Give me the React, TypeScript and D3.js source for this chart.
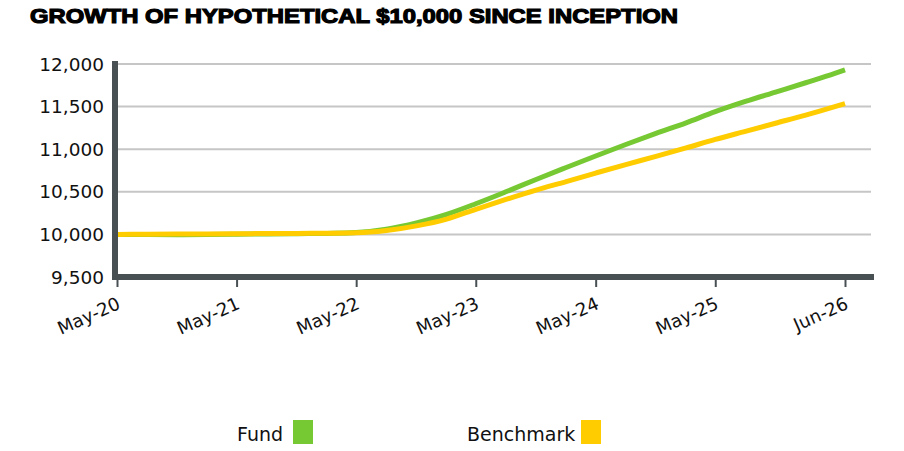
import { useEffect, useRef } from 'react';
import * as d3 from 'd3';

// quarterly observations, May-20 .. Jun-26
const dates = [
    "2020-05", "2020-08", "2020-11", "2021-02", "2021-05", "2021-08", "2021-11", "2022-02", "2022-05",
    "2022-08", "2022-11", "2023-02", "2023-05", "2023-08", "2023-11", "2024-02", "2024-05",
    "2024-08", "2024-11", "2025-02", "2025-05", "2025-08", "2025-11", "2026-02", "2026-05", "2026-06"
];
const fund = [
    10000, 9998, 9997, 10000, 10003, 10005, 10008, 10012, 10022,
    10062, 10135, 10235, 10360, 10500, 10645, 10785, 10920,
    11055, 11185, 11310, 11440, 11560, 11670, 11780, 11890, 11932
];
const benchmark = [
    10000, 10002, 10004, 10006, 10008, 10010, 10012, 10014, 10018,
    10045, 10100, 10180, 10295, 10410, 10520, 10620, 10720,
    10820, 10915, 11015, 11115, 11210, 11305, 11400, 11500, 11536
];
const xTickDates = ["2020-05", "2021-05", "2022-05", "2023-05", "2024-05", "2025-05", "2026-06"];
const xTickLabels = ["May-20", "May-21", "May-22", "May-23", "May-24", "May-25", "Jun-26"];
const yTicks = [9500, 10000, 10500, 11000, 11500, 12000];

const FUND_COLOR = "#76c933";
const BENCH_COLOR = "#ffcc00";
const AXIS_COLOR = "#485054";
const FONT = "'DejaVu Sans', sans-serif";

export default function App() {
    const svgRef = useRef<SVGSVGElement>(null);

    useEffect(() => {
        if (!svgRef.current) return;
        const svg = d3.select(svgRef.current);
        svg.selectAll("*").remove();

        const parse = d3.timeParse("%Y-%m");
        const x = d3.scaleTime()
            .domain([parse("2020-05")!, parse("2026-06")!])
            .range([117, 845]);
        const y = d3.scaleLinear()
            .domain([9500, 12000])
            .range([277, 64]);

        // titulo
        svg.append("text")
            .attr("x", 30)
            .attr("y", 23)
            .attr("textLength", 648)
            .attr("lengthAdjust", "spacingAndGlyphs")
            .style("font-family", "'Liberation Sans', Arial, sans-serif")
            .style("font-weight", 700)
            .style("font-size", "21px")
            .style("stroke", "#000")
            .style("stroke-width", 1.2)
            .style("fill", "#000")
            .text("GROWTH OF HYPOTHETICAL $10,000 SINCE INCEPTION");

        // grid
        svg.append("g")
            .selectAll("line")
            .data(yTicks.filter(d => d > 9500))
            .enter()
            .append("line")
            .attr("x1", 118)
            .attr("x2", 871)
            .attr("y1", d => y(d))
            .attr("y2", d => y(d))
            .attr("stroke", "#c6c6c6")
            .attr("stroke-width", 2);

        // y labels
        svg.append("g")
            .selectAll("text")
            .data(yTicks)
            .enter()
            .append("text")
            .attr("x", 104)
            .attr("y", d => y(d) + 6.5)
            .attr("text-anchor", "end")
            .style("font-family", FONT)
            .style("font-size", "18.5px")
            .style("fill", "#111")
            .text(d => d3.format(",")(d));

        // lines
        const pts = (vals: number[]) => vals.map((v, i) => ({ date: parse(dates[i])!, value: v }));
        const line = d3.line<{ date: Date; value: number }>()
            .x(d => x(d.date))
            .y(d => y(d.value))
            .curve(d3.curveMonotoneX);

        svg.append("path")
            .datum(pts(fund))
            .attr("fill", "none")
            .attr("stroke", FUND_COLOR)
            .attr("stroke-width", 5)
            .attr("d", line);

        svg.append("path")
            .datum(pts(benchmark))
            .attr("fill", "none")
            .attr("stroke", BENCH_COLOR)
            .attr("stroke-width", 5)
            .attr("d", line);

        // eixo x
        const xAxis = svg.append("g")
            .attr("transform", "translate(0,280)")
            .call(d3.axisBottom(x)
                .tickValues(xTickDates.map(d => parse(d)!))
                .tickSize(7)
                .tickFormat((_, i) => xTickLabels[i])
            );
        xAxis.select(".domain").remove();
        xAxis.selectAll(".tick line")
            .attr("stroke", AXIS_COLOR)
            .attr("stroke-width", 2);
        xAxis.selectAll(".tick text")
            .attr("text-anchor", "end")
            .attr("x", 0)
            .attr("y", 0)
            .attr("dy", 0)
            .attr("transform", "translate(4,28) rotate(-24)")
            .style("font-family", FONT)
            .style("font-size", "18px")
            .style("fill", "#111");

        // linhas grossas dos eixos
        svg.append("line")
            .attr("x1", 112)
            .attr("x2", 874)
            .attr("y1", 277)
            .attr("y2", 277)
            .attr("stroke", AXIS_COLOR)
            .attr("stroke-width", 6);
        svg.append("line")
            .attr("x1", 115)
            .attr("x2", 115)
            .attr("y1", 61)
            .attr("y2", 280)
            .attr("stroke", AXIS_COLOR)
            .attr("stroke-width", 6);

        // legenda
        const legendItems = [
            { label: "Fund", color: FUND_COLOR, x: 237, box: 293 },
            { label: "Benchmark", color: BENCH_COLOR, x: 467, box: 581 }
        ];
        const legend = svg.append("g").attr("class", "legend");
        legendItems.forEach(item => {
            legend.append("text")
                .attr("x", item.x)
                .attr("y", 441)
                .style("font-family", FONT)
                .style("font-size", "19px")
                .style("fill", "#111")
                .text(item.label);
            legend.append("rect")
                .attr("x", item.box)
                .attr("y", 420)
                .attr("width", 20)
                .attr("height", 24)
                .attr("fill", item.color);
        });
    }, []);

    return (
        <svg
            ref={svgRef}
            width={904}
            height={451}
            style={{ position: 'absolute', left: 0, top: 0, background: '#fff' }}
        />
    );
}
